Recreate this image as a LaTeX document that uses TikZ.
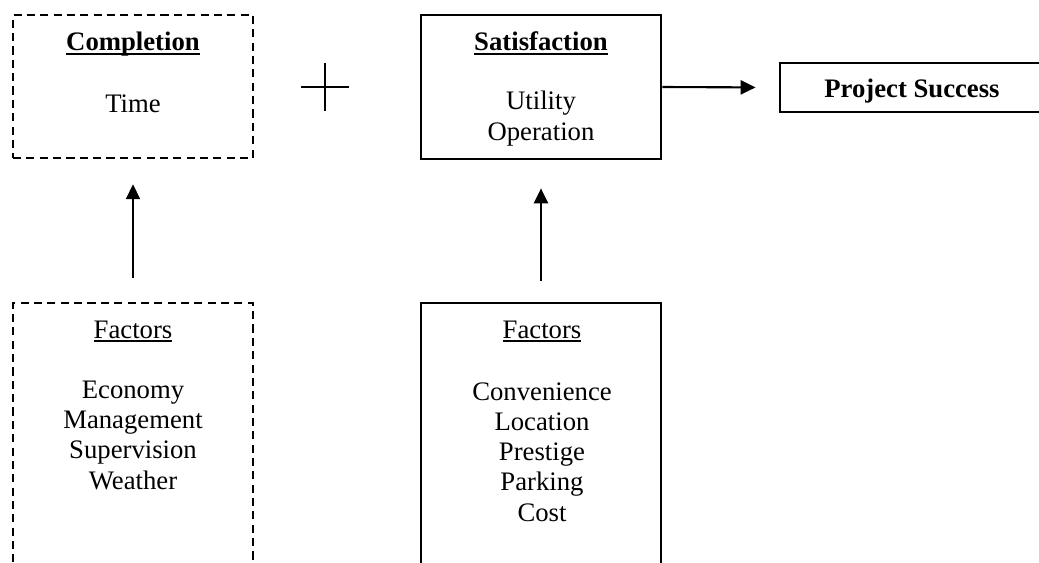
\documentclass[tikz,border=0pt]{standalone}
\usepackage{fontspec}
\setmainfont{Liberation Serif}
\usetikzlibrary{arrows.meta}

% underline with a chosen thickness and depth
\newcommand{\ulrule}[3]{\leavevmode\setbox0=\hbox{#3}\rlap{\rule[-#2]{\wd0}{#1}}\box0}
\newcommand{\headline}[1]{\ulrule{1.5pt}{3.1pt}{#1}}
\newcommand{\factline}[1]{\ulrule{0.9pt}{2.3pt}{#1}}

\tikzset{
	box/.style={draw, line width=1.6pt, minimum width=4.8cm, inner sep=0pt},
	dashbox/.style={box, line width=1.5pt, dash pattern=on 4.6pt off 3pt},
	txt/.style={anchor=base, align=center, inner sep=0pt, font=\fontsize{15.2}{17.1}\selectfont},
	boldtxt/.style={txt, font=\fontsize{15.2}{17.1}\selectfont\bfseries},
	arr/.style={line width=1.2pt, -{Triangle[length=8.5pt,width=8pt]}}
}

\begin{document}
\begin{tikzpicture}[x=0.02cm, y=-0.02cm]
	\useasboundingbox (0,0) rectangle (1039,562);
	\clip (0,0) rectangle (1039,562);

	% boxes
	\node[dashbox, minimum height=2.86cm] (compl) at (133,86.5) {};
	\node[box, minimum height=2.88cm] (satis) at (541,87) {};
	\node[box, minimum width=5.28cm, minimum height=0.98cm] (succ) at (912,87.5) {};
	\node[dashbox, minimum height=5.94cm] (factL) at (133,451.5) {};
	\node[box, minimum height=5.94cm] (factR) at (541,451.5) {};

	% texts (base of a list = its last line)
	\node[boldtxt] (complhead) at (133,50) {\headline{Completion}};
	\node[txt] (time) at (133,112) {Time};
	\node[boldtxt] (satishead) at (541,50) {\headline{Satisfaction}};
	\node[txt] (satislist) at (541,140) {Utility\\Operation};
	\node[boldtxt] (succtext) at (912,97) {Project Success};
	\node[txt] (factLhead) at (133,338) {\factline{Factors}};
	\node[txt] (factLlist) at (133,489) {Economy\\Management\\Supervision\\Weather};
	\node[txt] (factRhead) at (542,338) {\factline{Factors}};
	\node[txt] (factRlist) at (542,521) {Convenience\\Location\\Prestige\\Parking\\Cost};

	% plus sign
	\draw[line width=1.2pt] (301,87) -- (349,87);
	\draw[line width=1.2pt] (325,63) -- (325,111);

	% arrows
	\path[arr] (factL.north) edge[shorten <=0.48cm, shorten >=0.5cm] (compl.south);
	\path[arr] (factR.north) edge[shorten <=0.42cm, shorten >=0.56cm] (satis.south);
	\path[arr] (satis.east) edge[shorten >=0.46cm] (succ.west);

\end{tikzpicture}
\end{document}
